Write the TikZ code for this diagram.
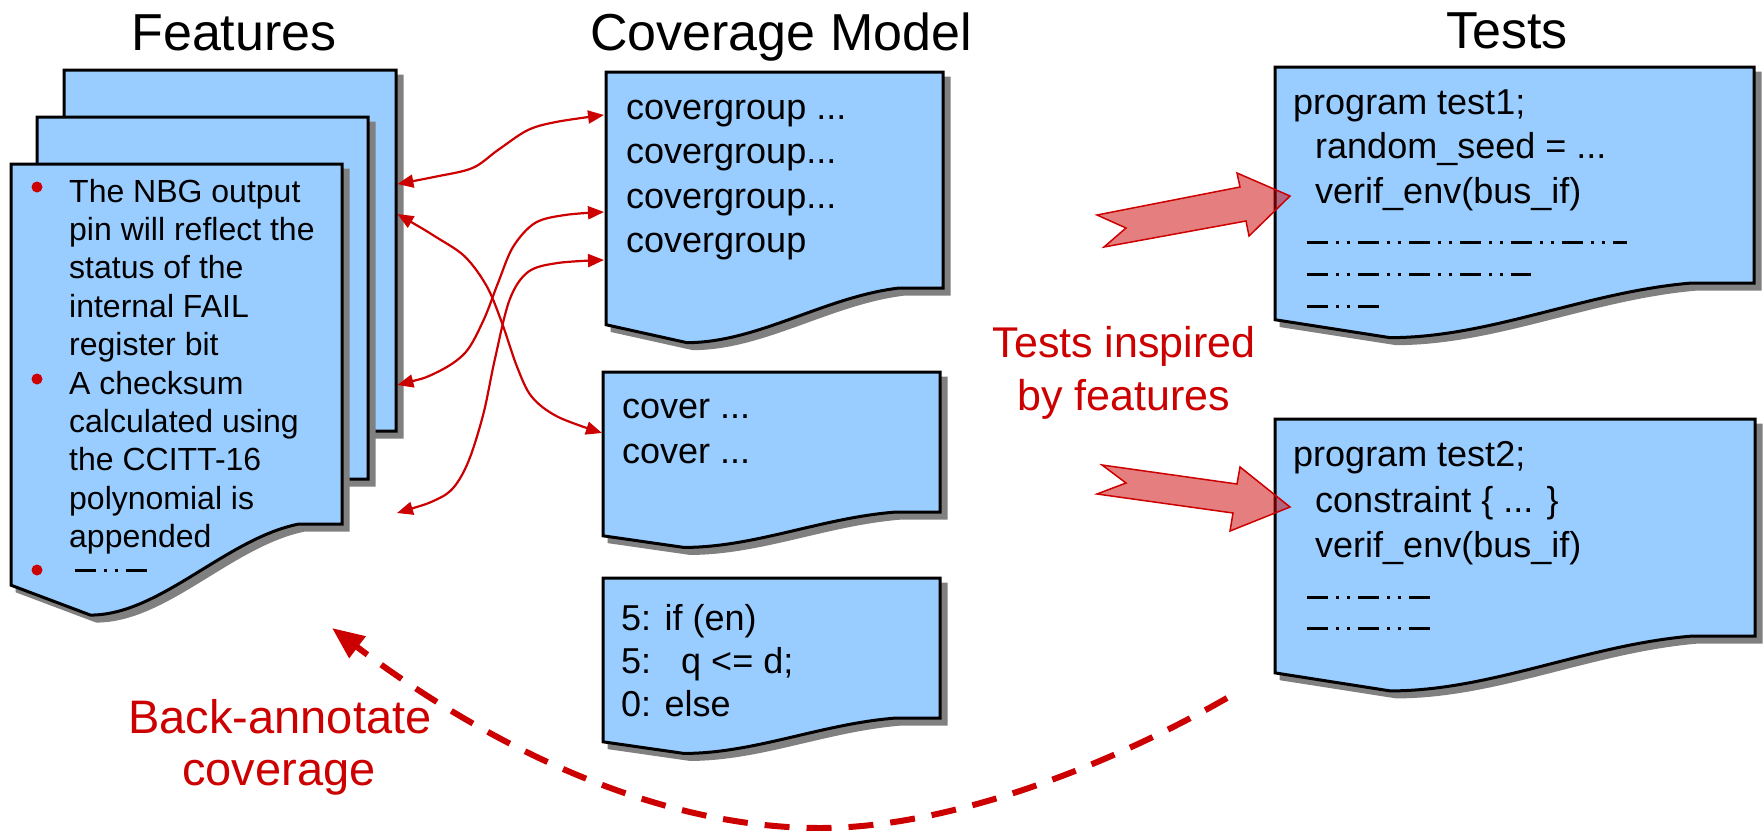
\documentclass[tikz,border=0pt]{standalone}
\usepackage{fontspec}
\setmainfont{Liberation Sans}
\usetikzlibrary{arrows.meta}
\definecolor{boxblue}{HTML}{99CCFF}
\definecolor{shadowgray}{HTML}{808080}
\definecolor{featred}{HTML}{CC0000}

% outline of a "document" sheet: left, top, width, height of the right edge
\newcommand{\docoutline}[4]{(#1,#2) -- ({#1+#3},#2) -- ({#1+#3},{#2+#4}) -- ({#1+0.87*#3},{#2+#4}) .. controls ({#1+0.65*#3},{#2+1.04*#4}) and ({#1+0.45*#3},{#2+1.253*#4}) .. ({#1+0.24*#3},{#2+1.253*#4}) -- (#1,{#2+1.17*#4}) -- cycle}

% sheet with drop shadow and a named node over its rectangular part
\newcommand{\docpage}[5]{%
  \begin{scope}[xshift=6pt,yshift=-6pt]
    \filldraw[docshadow] \docoutline{#2}{#3}{#4}{#5};
  \end{scope}
  \filldraw[docsheet] \docoutline{#2}{#3}{#4}{#5};
  \node[inner sep=0pt, minimum width=#4pt, minimum height=#5pt, anchor=north west] (#1) at (#2,#3) {};
}

\tikzset{
  docsheet/.style={fill=boxblue, draw=black, line width=3pt, line join=miter},
  docshadow/.style={fill=shadowgray, draw=shadowgray, line width=3pt, line join=miter},
  titletext/.style={font=\fontsize{52}{62}\selectfont, inner sep=0pt, anchor=base},
  bodytext/.style={font=\fontsize{32}{38}\selectfont, inner sep=0pt, anchor=base west},
  codetext/.style={font=\fontsize{36}{44}\selectfont, inner sep=0pt, anchor=base west},
  redlabel/.style={font=\fontsize{43}{52}\selectfont, text=featred, inner sep=0pt, anchor=base},
  biglabel/.style={redlabel, font=\fontsize{47}{56}\selectfont},
  bulletdot/.style={fill=featred, draw=none},
  dashline/.style={line width=3pt, dash pattern=on 21pt off 8pt on 3pt off 7.7pt on 3pt off 8.3pt},
  conn/.style={draw=featred, line width=2.2pt, {Triangle[length=16pt,width=13pt]}-{Triangle[length=16pt,width=13pt]}},
  fatarrow/.style={fill=featred, fill opacity=0.5, draw=featred, draw opacity=1, line width=1.5pt, line join=miter},
  backarrow/.style={draw=featred, line width=6pt, dash pattern=on 25pt off 17pt, -{Triangle[length=32pt,width=26pt]}},
}

\begin{document}
\begin{tikzpicture}[x=1pt,y=-1pt]
\useasboundingbox (0,0) rectangle (1763,830);

% column titles
\node[titletext] (t-feat) at (234,50) {Features};
\node[titletext] (t-cov) at (781,50) {Coverage Model};
\node[titletext] (t-tests) at (1507,48) {Tests};

% feature documents (stacked)
\docpage{featback}{64}{70}{332}{361}
\docpage{featmid}{37}{117}{331}{362}
\docpage{featfront}{11}{164}{331}{360}

\foreach \txt [count=\i from 0] in {The NBG output, pin will reflect the, status of the, internal FAIL, register bit, A checksum, calculated using, the CCITT-16, polynomial is, appended}
  \node[bodytext] (feat-\i) at (69,{202+38.4*\i}) {\txt};
\fill[bulletdot] (37,187) circle (5.5);
\fill[bulletdot] (37,379) circle (5.5);
\fill[bulletdot] (37,570) circle (5.5);
\draw[dashline] (75,570) -- (147,570);

% coverage model documents
\docpage{cg}{606}{72}{337}{216}
\docpage{cov}{603}{372}{337}{140}
\docpage{stmt}{603}{578}{337}{140}

\node[codetext] (cg-0) at (626,119) {covergroup ...};
\node[codetext] (cg-1) at (626,163) {covergroup...};
\node[codetext] (cg-2) at (626,208) {covergroup...};
\node[codetext] (cg-3) at (626,252) {covergroup};

\node[codetext] (cov-0) at (622,418) {cover ...};
\node[codetext] (cov-1) at (622,463) {cover ...};

\node[codetext] (stmt-0) at (621,630) {5: if (en)};
\node[codetext] (stmt-1) at (621,673) {5:\ \ \ q <= d;};
\node[codetext] (stmt-2) at (621,716) {0: else};

% test documents
\docpage{test1}{1275}{67}{479}{216}
\docpage{test2}{1275}{419}{480}{217}

\node[codetext] (t1-0) at (1293,114) {program test1;};
\node[codetext] (t1-1) at (1315,158) {random\_seed = ...};
\node[codetext] (t1-2) at (1315,203) {verif\_env(bus\_if)};
\draw[dashline] (1307,242) -- (1627,242);
\draw[dashline] (1307,274) -- (1531,274);
\draw[dashline] (1307,306) -- (1380,306);

\node[codetext] (t2-0) at (1293,466) {program test2;};
\node[codetext] (t2-1) at (1315,512) {constraint \{ ... \}};
\node[codetext] (t2-2) at (1315,557) {verif\_env(bus\_if)};
\draw[dashline] (1307,597) -- (1431,597);
\draw[dashline] (1307,628) -- (1431,628);

% links between features and coverage items
\coordinate (a-from) at ([yshift=-114pt,xshift=1pt]featback.north east);
\coordinate (a-to) at ([yshift=-43pt,xshift=-2pt]cg.north west);
\coordinate (b-from) at ([yshift=-144pt,xshift=1pt]featback.north east);
\coordinate (b-to) at ([yshift=-61pt,xshift=-1pt]cov.north west);
\coordinate (c-from) at ([yshift=-315pt,xshift=1pt]featback.north east);
\coordinate (c-to) at ([yshift=-140pt,xshift=-2pt]cg.north west);
\coordinate (d-from) at (397,513);
\coordinate (d-to) at ([yshift=-188pt,xshift=-2pt]cg.north west);

\draw[conn] plot[smooth, tension=0.55] coordinates {(a-from) (435.5,176.7) (472.5,168) (498,150) (528,130) (557.6,121.7) (a-to)};
\draw[conn] plot[smooth, tension=0.55] coordinates {(b-from) (435.5,236.7) (465,256.7) (487,286.7) (502,323) (517,366.7) (531.7,396.7) (557.6,416.7) (b-to)};
\draw[conn] plot[smooth, tension=0.55] coordinates {(c-from) (435.5,373) (465,353) (483.6,320) (498,283) (513,247) (535,223) (565,215) (c-to)};
\draw[conn] plot[smooth, tension=0.55] coordinates {(d-from) (435.5,500) (454,487) (469,460) (483.6,413) (494.7,360) (509.5,300) (528,272) (557.6,263) (d-to)};

% block arrows into the tests
\filldraw[fatarrow] (1097,215) -- (1240,187) -- (1237,173) -- (1290,196) -- (1249,236) -- (1246,221) -- (1104,247) -- (1126,228) -- cycle;
\filldraw[fatarrow] (1102,465) -- (1237,484) -- (1240,467) -- (1290,507) -- (1230,531) -- (1233,513) -- (1097,494) -- (1126,483) -- cycle;

\node[redlabel] (inspired-1) at (1124,357) {Tests inspired};
\node[redlabel] (inspired-2) at (1124,410) {by features};

% back-annotation
\coordinate (ba-start) at (1227,698);
\coordinate (ba-end) at (332,628);
\draw[backarrow] (ba-start) .. controls (1110,765) and (950,828) .. (820,828) .. controls (650,828) and (480,740) .. (ba-end);

\node[biglabel] (back-1) at (280,733) {Back-annotate};
\node[biglabel] (back-2) at (279,785) {coverage};
\end{tikzpicture}
\end{document}
